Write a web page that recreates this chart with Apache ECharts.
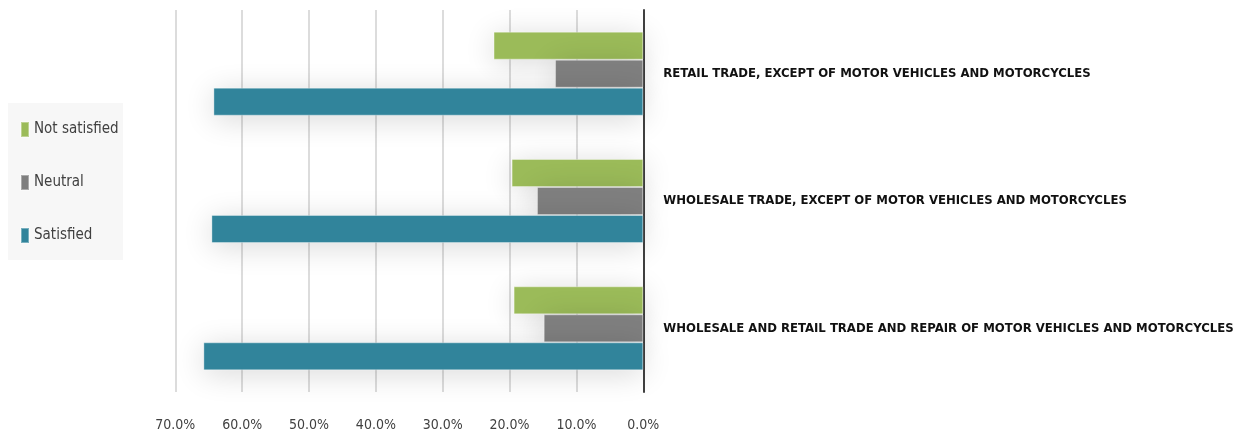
<!DOCTYPE html>
<html>
<head>
<meta charset="utf-8">
<script src="https://cdn.jsdelivr.net/npm/echarts@6/dist/echarts.min.js"></script>
<style>
html,body{margin:0;padding:0;background:#fff;}
#chart{width:1244px;height:438px;}
</style>
</head>
<body>
<div id="chart"></div>
<script>
const categories = [
  'RETAIL TRADE, EXCEPT OF MOTOR VEHICLES AND MOTORCYCLES',
  'WHOLESALE TRADE, EXCEPT OF MOTOR VEHICLES AND MOTORCYCLES',
  'WHOLESALE AND RETAIL TRADE AND REPAIR OF MOTOR VEHICLES AND MOTORCYCLES'
];
const seriesNames = ['Not satisfied', 'Neutral', 'Satisfied'];
const notSatisfied = [0.224, 0.197, 0.194];
const neutral = [0.132, 0.159, 0.149];
const satisfied = [0.643, 0.646, 0.658];
const tickMax = 0.7;
const tickStep = 0.1;

const FONT = '"DejaVu Sans Condensed", "Liberation Sans Narrow", sans-serif';
const colors = ['#9BBB59', '#7F7F7F', '#31849B'];
const values = [notSatisfied, neutral, satisfied];

const chart = echarts.init(document.getElementById('chart'), null, {renderer: 'canvas'});
chart.setOption({
  animation: false,
  graphic: [{
    type: 'rect',
    left: 8, top: 103,
    shape: {width: 115, height: 157},
    style: {fill: '#f7f7f7'},
    z: 0
  }],
  legend: {
    orient: 'vertical',
    left: 15, top: 116,
    itemGap: 36,
    itemWidth: 8, itemHeight: 15,
    icon: 'rect',
    data: seriesNames,
    textStyle: {fontFamily: FONT, fontSize: 15, color: '#404040'}
  },
  grid: {left: 175.3, right: 600.7, top: 10, bottom: 46, outerBoundsMode: 'none', containLabel: false},
  xAxis: {
    type: 'value',
    inverse: true,
    min: 0, max: tickMax, interval: tickStep,
    axisLine: {show: false},
    axisTick: {show: false},
    splitLine: {show: true, lineStyle: {color: '#d0d0d0', width: 1.5}},
    axisLabel: {
      margin: 26,
      fontFamily: FONT, fontSize: 14, color: '#404040',
      formatter: v => (v * 100).toFixed(1) + '%'
    }
  },
  yAxis: {
    type: 'category',
    position: 'right',
    inverse: true,
    data: categories,
    axisLine: {show: true, lineStyle: {color: '#404040', width: 2}},
    axisTick: {show: false},
    axisLabel: {margin: 20, fontFamily: FONT, fontSize: 13, fontWeight: 'bold', color: '#111'}
  },
  series: seriesNames.map((name, i) => ({
    name: name,
    type: 'bar',
    data: values[i],
    barWidth: 28,
    barGap: '0%',
    itemStyle: {
      color: colors[i],
      borderColor: 'rgba(255,255,255,0.35)',
      borderWidth: 1,
      shadowBlur: 30,
      shadowColor: 'rgba(0,0,0,0.16)',
      shadowOffsetY: 4
    }
  }))
});
</script>
</body>
</html>
